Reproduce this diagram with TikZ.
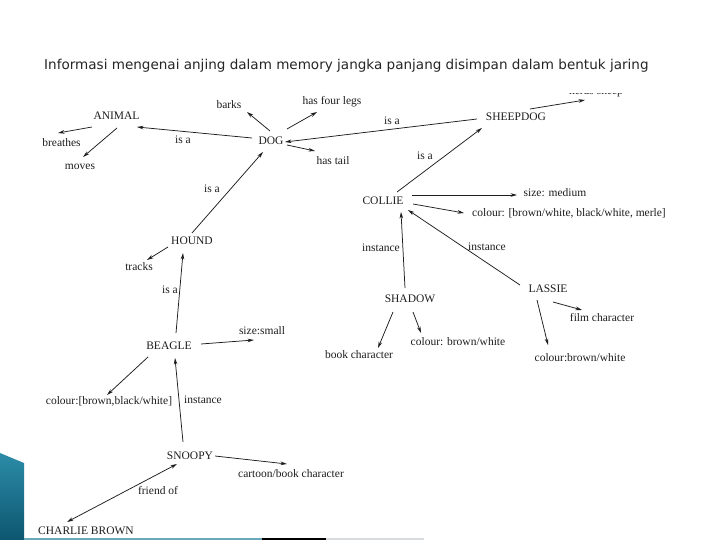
\documentclass[tikz,border=0pt]{standalone}
\usepackage{fontspec}
\setmainfont{Liberation Serif}
\newfontfamily\titlefont{DejaVu Sans}
\usetikzlibrary{arrows.meta}
\definecolor{ink}{HTML}{1E1E1E}
\definecolor{titleink}{HTML}{262626}
\definecolor{tealA}{HTML}{2C8CA8}
\definecolor{tealB}{HTML}{0D5670}
\definecolor{tealline}{HTML}{6AAAB8}
\definecolor{greyline}{HTML}{D8DCDE}
\tikzset{
  lbl/.style={inner sep=1pt, text=ink, font=\fontsize{11.5}{12}\selectfont, text height=1.5ex, text depth=0.25ex},
  arr/.style={draw=ink, line width=0.75pt, -{Stealth[length=6.5pt,width=3.6pt]}},
  biarr/.style={draw=ink, line width=0.75pt, {Stealth[length=6.5pt,width=3.6pt]}-{Stealth[length=6.5pt,width=3.6pt]}},
}
\begin{document}
\begin{tikzpicture}[x=1pt,y=-1pt]
\useasboundingbox (0,0) rectangle (720,540);
\fill[white] (0,0) rectangle (720,540);
% title
\node[text=titleink, font=\titlefont\fontsize{13.55}{14}\selectfont, anchor=west, inner sep=0pt] (title) at (44,66) {Informasi mengenai anjing dalam memory jangka panjang disimpan dalam bentuk jaring};
% decoration
\shade[top color=tealA, bottom color=tealB] (0,453) -- (24,463) -- (24,540) -- (0,540) -- cycle;
\draw[tealline, line width=1.5pt] (24,539) -- (262,539);
\draw[black, line width=1.5pt] (262,539) -- (326,539);
\draw[greyline, line width=1.5pt] (326,539) -- (424,539);
% nodes
\node[lbl] (animal) at (116.5,117) {ANIMAL};
\node[lbl] (breathes) at (61.5,144) {breathes};
\node[lbl] (moves) at (80,167) {moves};
\node[lbl] (barks) at (229,106) {barks};
\node[lbl] (legs) at (332,102) {has four legs};
\node[lbl] (dog) at (271,142) {DOG};
\node[lbl] (tail) at (333,162) {has tail};
\node[lbl] (sheepdog) at (516,118) {SHEEPDOG};
\begin{scope}
\clip (0,94) rectangle (720,540);
\node[lbl] (herds) at (596,92) {herds sheep};
\end{scope}
\node[lbl] (collie) at (383,202) {COLLIE};
\node[lbl] (sizemed) at (555,194) {size: medium};
\node[lbl] (colcollie) at (569,214) {colour: [brown/white, black/white, merle]};
\node[lbl] (hound) at (192,242) {HOUND};
\node[lbl] (tracks) at (139,268) {tracks};
\node[lbl] (shadow) at (410,300) {SHADOW};
\node[lbl] (lassie) at (548,290) {LASSIE};
\node[lbl] (film) at (602,319) {film character};
\node[lbl] (book) at (359,356) {book character};
\node[lbl] (colshadow) at (458,343) {colour: brown/white};
\node[lbl] (collassie) at (580,359) {colour:brown/white};
\node[lbl] (beagle) at (169,347) {BEAGLE};
\node[lbl] (sizesmall) at (262,332) {size:small};
\node[lbl] (colbeagle) at (109,402) {colour:[brown,black/white]};
\node[lbl] (snoopy) at (190,457) {SNOOPY};
\node[lbl] (cartoon) at (291,475) {cartoon/book character};
\node[lbl] (charlie) at (86,532) {CHARLIE BROWN};
% edge labels
\node[lbl] (isa1) at (183,141) {is a};
\node[lbl] (isa2) at (392,122) {is a};
\node[lbl] (isa3) at (425,157) {is a};
\node[lbl] (isa4) at (212,190) {is a};
\node[lbl] (isa5) at (170,291) {is a};
\node[lbl] (inst1) at (381,249) {instance};
\node[lbl] (inst2) at (487,248) {instance};
\node[lbl] (inst3) at (203,401) {instance};
\node[lbl] (friend) at (158,492) {friend of};
% connectors
\draw[arr] ([shift={(-24.5,10)}]animal.center) -- ([shift={(-3.5,-11)}]breathes.center);
\draw[arr] ([shift={(0.5,11)}]animal.center) -- ([shift={(3,-10)}]moves.center);
\draw[arr] ([shift={(-19,-4)}]dog.center) -- ([shift={(20.5,10)}]animal.center);
\draw[arr] ([shift={(-1,-11)}]dog.center) -- ([shift={(18,6)}]barks.center);
\draw[arr] ([shift={(16,-13)}]dog.center) -- ([shift={(-15,10)}]legs.center);
\draw[arr] ([shift={(-39,1)}]sheepdog.center) -- ([shift={(14,0)}]dog.center);
\draw[arr] ([shift={(16,3)}]dog.center) -- ([shift={(-18,-11)}]tail.center);
\draw[arr] ([shift={(0,-9)}]hound.center) -- ([shift={(-8,10)}]dog.center);
\draw[arr] ([shift={(14,-9)}]sheepdog.center) -- ([shift={(-11,8)}]herds.center);
\draw[arr] ([shift={(14,-10)}]collie.center) -- ([shift={(-34,10)}]sheepdog.center);
\draw[arr] ([shift={(29,-7)}]collie.center) -- ([shift={(-38,1)}]sizemed.center);
\draw[arr] ([shift={(30,2)}]collie.center) -- ([shift={(-105,-1)}]colcollie.center);
\draw[arr] ([shift={(-5,-12)}]shadow.center) -- ([shift={(18,10)}]collie.center);
\draw[arr] ([shift={(-28,-5)}]lassie.center) -- ([shift={(25,8)}]collie.center);
\draw[arr] ([shift={(-17,12)}]shadow.center) -- ([shift={(19,-8)}]book.center);
\draw[arr] ([shift={(3,12)}]shadow.center) -- ([shift={(-37,-10)}]colshadow.center);
\draw[arr] ([shift={(5,12)}]lassie.center) -- ([shift={(-20,-9)}]film.center);
\draw[arr] ([shift={(-11,10)}]lassie.center) -- ([shift={(-32,-14)}]collassie.center);
\draw[arr] ([shift={(7,-14)}]beagle.center) -- ([shift={(-9,11)}]hound.center);
\draw[arr] ([shift={(-24,5)}]hound.center) -- ([shift={(8,-8)}]tracks.center);
\draw[arr] ([shift={(32,-3)}]beagle.center) -- ([shift={(-8,8)}]sizesmall.center);
\draw[arr] ([shift={(-21,10)}]beagle.center) -- ([shift={(-2,-7)}]colbeagle.center);
\draw[arr] ([shift={(-7,-15)}]snoopy.center) -- ([shift={(6,11)}]beagle.center);
\draw[arr] ([shift={(25,-1)}]snoopy.center) -- ([shift={(-4,-11)}]cartoon.center);
\draw[biarr] ([shift={(-13,7)}]snoopy.center) -- ([shift={(-19,-10)}]charlie.center);
\end{tikzpicture}
\end{document}
